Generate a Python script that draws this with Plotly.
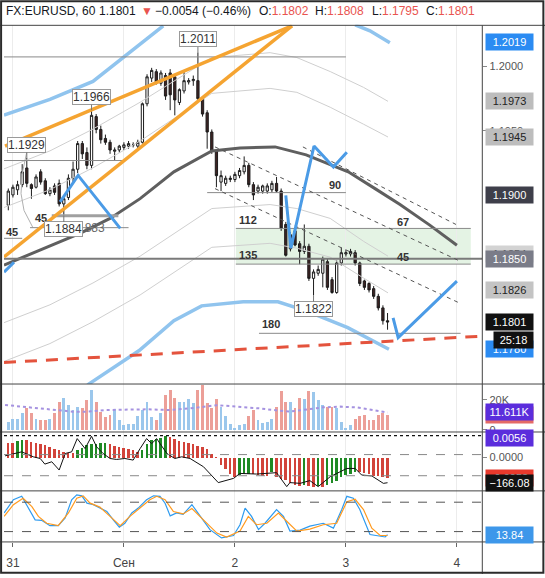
import plotly.graph_objects as go

W, H = 545, 578

# hourly EURUSD candles, bar 0 = 30 Aug 23:00 ... bar 82 = 3 Sep 09:00
opens = [1.1892, 1.1900, 1.1904, 1.1908, 1.1921, 1.1908, 1.1906, 1.1918, 1.1911, 1.1901,
         1.1907, 1.1909, 1.1893, 1.1898, 1.1913, 1.1920, 1.1940, 1.1933, 1.1923, 1.1961,
         1.1951, 1.1944, 1.1941, 1.1934, 1.1935, 1.1937, 1.1938, 1.1939, 1.1938, 1.1941,
         1.1971, 1.1991, 1.1996, 1.1987, 1.1993, 1.1995, 1.1992, 1.1972, 1.1981, 1.1988,
         1.1989, 1.1989, 1.1975, 1.1964, 1.1949, 1.1934, 1.1910, 1.1909, 1.1912, 1.1912,
         1.1915, 1.1918, 1.1923, 1.1908, 1.1903, 1.1903, 1.1903, 1.1904, 1.1909, 1.1903,
         1.1877, 1.1858, 1.1872, 1.1862, 1.1856, 1.1860, 1.1835, 1.1839, 1.1839, 1.1848,
         1.1834, 1.1824, 1.1847, 1.1854, 1.1854, 1.1855, 1.1847, 1.1833, 1.1831, 1.1827,
         1.1821, 1.1812, 1.1802]
highs = [1.1905, 1.1908, 1.1911, 1.1924, 1.1929, 1.1909, 1.1916, 1.1920, 1.1913, 1.1906,
         1.1909, 1.1912, 1.1899, 1.1916, 1.1926, 1.1942, 1.1942, 1.1937, 1.1966, 1.1963,
         1.1954, 1.1947, 1.1943, 1.1937, 1.1939, 1.1941, 1.1942, 1.1941, 1.1943, 1.1972,
         1.1994, 1.1999, 1.1998, 1.1997, 1.1995, 1.1998, 1.1994, 1.1983, 1.1996, 1.1991,
         1.1993, 1.2011, 1.1977, 1.1966, 1.1951, 1.1935, 1.1919, 1.1915, 1.1915, 1.1918,
         1.1921, 1.1930, 1.1925, 1.1910, 1.1908, 1.1908, 1.1909, 1.1911, 1.1914, 1.1905,
         1.1879, 1.1871, 1.1874, 1.1864, 1.1877, 1.1862, 1.1842, 1.1845, 1.1852, 1.1850,
         1.1836, 1.1849, 1.1859, 1.1857, 1.1858, 1.1857, 1.1848, 1.1834, 1.1832, 1.1829,
         1.1823, 1.1814, 1.1808]
lows = [1.1888, 1.1898, 1.1900, 1.1906, 1.1906, 1.1897, 1.1905, 1.1908, 1.1900, 1.1899,
        1.1900, 1.1891, 1.1884, 1.1896, 1.1910, 1.1917, 1.1928, 1.1920, 1.1920, 1.1948,
        1.1940, 1.1939, 1.1932, 1.1927, 1.1933, 1.1935, 1.1936, 1.1937, 1.1935, 1.1940,
        1.1969, 1.1988, 1.1986, 1.1985, 1.1974, 1.1966, 1.1962, 1.1970, 1.1979, 1.1986,
        1.1985, 1.1972, 1.1961, 1.1936, 1.1932, 1.1906, 1.1903, 1.1907, 1.1910, 1.1910,
        1.1913, 1.1916, 1.1906, 1.1896, 1.1901, 1.1901, 1.1901, 1.1902, 1.1902, 1.1872,
        1.1852, 1.1856, 1.1860, 1.1846, 1.1854, 1.1833, 1.1822, 1.1837, 1.1828, 1.1826,
        1.1823, 1.1823, 1.1845, 1.1852, 1.1852, 1.1845, 1.1829, 1.1826, 1.1824, 1.1819,
        1.1810, 1.1799, 1.1795]
closes = [1.1903, 1.1906, 1.1908, 1.1918, 1.1909, 1.1905, 1.1914, 1.1910, 1.1901, 1.1904,
          1.1902, 1.1893, 1.1897, 1.1913, 1.1920, 1.1940, 1.1932, 1.1923, 1.1962, 1.1951,
          1.1943, 1.1941, 1.1935, 1.1935, 1.1938, 1.1939, 1.1940, 1.1939, 1.1941, 1.1971,
          1.1992, 1.1997, 1.1988, 1.1995, 1.1977, 1.1978, 1.1974, 1.1982, 1.1989, 1.1989,
          1.1990, 1.1975, 1.1963, 1.1949, 1.1934, 1.1915, 1.1915, 1.1913, 1.1913, 1.1916,
          1.1919, 1.1923, 1.1908, 1.1900, 1.1906, 1.1907, 1.1907, 1.1909, 1.1903, 1.1874,
          1.1853, 1.1869, 1.1861, 1.1856, 1.1860, 1.1835, 1.1840, 1.1842, 1.1850, 1.1828,
          1.1824, 1.1847, 1.1855, 1.1855, 1.1856, 1.1847, 1.1831, 1.1828, 1.1826, 1.1821,
          1.1812, 1.1802, 1.1801]
bars = list(range(len(closes)))

# volume in thousands
volume_k = [5.2, 7.5, 7.5, 10.9, 14.3, 11.4, 7.5, 6.4, 6.4, 7.5, 10.9, 18.9, 21.2, 16.6,
            13.2, 15.5, 14.3, 20.0, 26.4, 18.9, 12.1, 8.6, 9.8, 13.7, 6.4, 3.0, 4.1, 4.1,
            9.1, 13.2, 18.9, 8.6, 6.4, 10.9, 23.4, 26.4, 21.2, 18.9, 18.9, 20.5, 17.7, 26.8,
            29.8, 18.2, 14.3, 20.5, 15.0, 9.1, 4.1, 1.4, 3.0, 4.1, 9.1, 13.2, 6.8, 4.6, 5.2,
            7.5, 15.5, 25.7, 18.9, 18.9, 14.3, 21.2, 20.5, 25.7, 25.0, 20.0, 16.6, 15.5, 15.0,
            14.3, 5.2, 1.4, 3.0, 7.5, 9.1, 9.8, 6.8, 6.8, 9.8, 10.9, 9.8]
vol_ma_x = [-0.7, 4.3, 9.0, 14, 17, 21, 26, 30, 35, 39.3, 45.1, 50.1, 54.4, 57.3, 60.9,
            68.1, 71.7, 75.3, 79.7, 82]
vol_ma_y = [16.6, 15.0, 13.2, 12.1, 12.1, 13.2, 13.5, 13.7, 13.2, 14.3, 16.5, 15.5, 14.3,
            13.2, 12.2, 15.0, 15.5, 15.0, 13.0, 11.611]

macd_hist = [0.0039, 0.0039, 0.0042, 0.0045, 0.0045, 0.0040, 0.0039, 0.0036, 0.0032, 0.0027,
             0.0023, 0.0019, 0.0015, 0.0012, 0.0011, 0.0019, 0.0025, 0.0032, 0.0034, 0.0036,
             0.0037, 0.0038, 0.0034, 0.0031, 0.0027, 0.0024, 0.0021, 0.0019, 0.0015, 0.0019,
             0.0036, 0.0045, 0.0049, 0.0052, 0.0055, 0.0053, 0.0049, 0.0043, 0.0040, 0.0037,
             0.0034, 0.0031, 0.0027, 0.0021, 0.0010, 0.0001, -0.0020, -0.0029, -0.0042, -0.0051,
             -0.0046, -0.0043, -0.0042, -0.0043, -0.0045, -0.0047, -0.0048, -0.0038, -0.0051,
             -0.0055, -0.0059, -0.0065, -0.0071, -0.0075, -0.0071, -0.0075, -0.0076, -0.0075,
             -0.0076, -0.0071, -0.0067, -0.0062, -0.0051, -0.0045, -0.0043, -0.0037, -0.0038,
             -0.0040, -0.0043, -0.0047, -0.0049, -0.0051, -0.0052]
cci_x = [-0.7, 2.9, 5.4, 6.9, 7.9, 9.4, 11.0, 12.3, 13.7, 14.9, 16.6, 18.0, 19.1, 20.5,
         22.0, 23.4, 25.2, 27.0, 28.5, 29.9, 31.0, 32.1, 32.8, 34.3, 36.0, 37.5, 39.3,
         42.2, 45.4, 48.7, 50.1, 53.7, 58.0, 60.2, 60.9, 63.1, 65.2, 67.0, 69.6, 73.2,
         75.0, 76.4, 78.6, 81.1, 82]
cci_y = [88, 126, 79, 63, 10, 32, -46, 110, 126, 251, 157, 273, 173, 110, 63, 54, 63, 48,
         157, 251, 204, 251, 204, 110, 63, 79, 63, -15, -165, -125, -78, -84, -71, -203,
         -165, -172, -146, -203, -109, -31, -31, -93, -102, -172, -166.08]

stoch_k_x = [-0.9, 1.1, 2.9, 4.3, 5.8, 7.2, 9.0, 10.8, 12.3, 13.7, 14.8, 15.9, 17.0, 18.4,
             19.8, 21.3, 22.7, 24.0, 25.2, 26.7, 28.1, 29.9, 31.4, 32.8, 33.9, 35.0, 36.4,
             37.8, 39.7, 41.5, 43.6, 46.1, 48.7, 50.1, 51.2, 52.6, 54.1, 55.5, 58.0, 59.5,
             60.9, 63.1, 65.2, 68.1, 70.3, 72.1, 73.2, 74.6, 76.0, 78.2, 80.4, 81.5, 82]
stoch_k_y = [58, 85, 92, 68, 44, 43, 32, 32, 48, 85, 95, 93, 78, 75, 68, 61, 44, 29, 37, 58,
             68, 85, 93, 92, 78, 52, 58, 55, 75, 51, 24, 7, 12, 34, 68, 51, 24, 37, 65, 51,
             21, 23, 31, 37, 27, 65, 92, 88, 65, 14, 11, 9, 13.84]
stoch_d_x = [-0.9, 1.1, 3.2, 5.1, 6.5, 8.3, 10.8, 13.0, 14.8, 16.2, 17.7, 19.8, 22.0, 24.2,
             26.3, 28.5, 30.6, 32.1, 33.9, 35.7, 37.8, 39.7, 42.2, 45.1, 47.2, 50.1, 51.9,
             53.7, 55.9, 58.4, 60.2, 62.4, 65.2, 68.1, 71.0, 73.2, 75.0, 76.8, 78.6, 80.4, 82]
stoch_d_y = [51, 75, 88, 71, 51, 37, 32, 58, 88, 93, 78, 70, 51, 32, 51, 68, 85, 92, 85, 61,
             56, 67, 44, 17, 9, 21, 51, 34, 37, 58, 41, 21, 25, 34, 37, 81, 86, 65, 27, 12, 12]

day_ticks = [1, 25, 49, 73, 97]
day_labels = ["31", "Сен", "2", "3", "4"]
price_ticks = [1.1950, 1.2000]

# channel / band curves (bar index, price)
mid_x = [-0.93, 6.85, 15.5, 22.0, 28.5, 35.8, 44.0, 50.1, 57.7, 64.4, 73.5, 79.3, 84.7, 91.2, 97.0]
mid_y = [1.18453, 1.18569, 1.18701, 1.18817, 1.18971, 1.19180, 1.19343, 1.19366, 1.19374,
         1.19312, 1.19180, 1.19049, 1.18925, 1.18763, 1.18608]
band_x = [-0.93, 9.0, 18.3, 28.5, 44.0, 56.6, 62.4, 69.6, 76.8, 82.1]
up_outer_y = [1.19203, 1.19343, 1.19513, 1.19722, 1.20070, 1.20108, 1.20070, 1.19961, 1.19838, 1.19729]
up_inner_y = [1.18902, 1.19041, 1.19211, 1.19420, 1.19791, 1.19830, 1.19799, 1.19683, 1.19551, 1.19451]
lo_inner_y = [1.18005, 1.18144, 1.18314, 1.18523, 1.18894, 1.18925, 1.18894, 1.18817, 1.18639, 1.18523]
lo_outer_y = [1.17703, 1.17842, 1.18012, 1.18221, 1.18592, 1.18623, 1.18585, 1.18515, 1.18353, 1.18237]
blue_up_x = [-0.93, 9.0, 18.3, 26.3, 33.5]
blue_up_y = [1.19621, 1.19745, 1.19884, 1.20108, 1.20317]
blue_up2_x = [75.0, 78.2, 82.5]
blue_up2_y = [1.20325, 1.20278, 1.20186]
blue_lo_x = [15.5, 17.4, 28.3, 35.8, 41.8, 50.8, 58.3, 64.4, 73.4, 82.3]
blue_lo_y = [1.17463, 1.17527, 1.17788, 1.18020, 1.18136, 1.18167, 1.18167, 1.18097, 1.17966, 1.17798]

# drawings
wedge_a_x, wedge_a_y = [-0.71, 61.34], [1.19381, 1.20317]
wedge_b_x, wedge_b_y = [-0.93, 61.34], [1.18517, 1.20317]
zig_left_x, zig_left_y = [11.2, 15.1, 24.2], [1.18946, 1.19152, 1.18739]
zig_stub_x, zig_stub_y = [-0.93, 1.23], [1.18399, 1.18476]
zig_right_x = [60.0, 61.1, 66.1, 70.3, 73.2]
zig_right_y = [1.18997, 1.18585, 1.19381, 1.19217, 1.19333]
zig_proj_x, zig_proj_y = [83.2, 84.3, 97.0], [1.18043, 1.17889, 1.18329]
trend_x, trend_y = [-0.93, 102.49], [1.17695, 1.17900]
chan_x = [[44.7, 97.2], [44.7, 97.5], [63.7, 96.8]]
chan_y = [[1.19374, 1.18492], [1.19049, 1.18159], [1.19374, 1.18770]]
arc_x = [4.0, 3.0, 2.75, 3.4, 5.3]
arc_y = [1.19335, 1.19165, 1.19010, 1.18879, 1.18747]
levels = [  # x0, x1, price
    (-0.93, 73.0, 1.20075), (-0.93, 25.2, 1.19268), (4.7, 26.0, 1.18745),
    (-0.93, 3.0, 1.18662), (43.0, 73.0, 1.19018), (49.2, 100.0, 1.18739),
    (49.2, 100.0, 1.18461), (54.2, 97.8, 1.17922)]
thick_level = (9.4, 23.8, 1.18838)
full_level = 1.18502
zone = (49.2, 100.0, 1.18461, 1.18739)
angle_labels = [(7.0, 1.18817, "45"), (0.75, 1.18708, "45"), (70.7, 1.19080, "90"),
                (51.9, 1.18804, "112"), (85.3, 1.18791, "67"), (51.9, 1.18533, "135"),
                (85.3, 1.18520, "45"), (56.8, 1.17991, "180")]
hi_marks = [4, 18, 41]
lo_marks = [12, 66]

X0, X1 = 4 / W, 482.3 / W


def py(px):
    return 1 - px / H


fig = go.Figure()


def line(xs, ys, color, width, dash=None, xa="x", ya="y"):
    fig.add_trace(go.Scatter(x=xs, y=ys, mode="lines", xaxis=xa, yaxis=ya,
                             line=dict(color=color, width=width, dash=dash),
                             hoverinfo="skip", showlegend=False))


# bands under the candles
for yy in (up_outer_y, up_inner_y, lo_inner_y, lo_outer_y):
    line(band_x, yy, "#cfcfcf", 1)
line(mid_x, mid_y, "#5f5f5f", 3)
line(blue_up_x, blue_up_y, "#90c4ee", 3.5)
line(blue_up2_x, blue_up2_y, "#90c4ee", 3.5)
line(blue_lo_x, blue_lo_y, "#90c4ee", 3.5)
line(arc_x, arc_y, "#b0b0b0", 1)
for x0, x1, p in levels:
    line([x0, x1], [p, p], "#8a8a8a", 1)
line([thick_level[0], thick_level[1]], [thick_level[2]] * 2, "#a0a0a0", 3)
line([-0.93, 102.49], [full_level, full_level], "#7a7a7a", 2)

fig.add_trace(go.Candlestick(
    x=bars, open=opens, high=highs, low=lows, close=closes,
    increasing=dict(line=dict(color="#1c1c1c", width=1), fillcolor="#ffffff"),
    decreasing=dict(line=dict(color="#1c1c1c", width=1), fillcolor="#3e2323"),
    whiskerwidth=0, hoverinfo="skip", showlegend=False))

# drawings on top
line(wedge_a_x, wedge_a_y, "#f5a431", 3.5)
line(wedge_b_x, wedge_b_y, "#f5a431", 3.5)
for cx, cy in zip(chan_x, chan_y):
    line(cx, cy, "#555555", 1, "4px,4px")
line(zig_left_x, zig_left_y, "#4b9be6", 3)
line(zig_stub_x, zig_stub_y, "#4b9be6", 3)
line(zig_right_x, zig_right_y, "#4b9be6", 3)
line(zig_proj_x, zig_proj_y, "#4b9be6", 3)
line(trend_x, trend_y, "#e4533d", 3, "12px,9px")

# volume pane
vol_colors = ["#91c1ea" if c >= o else "#eb958d" for o, c in zip(opens, closes)]
line(vol_ma_x, vol_ma_y, "#a592e0", 2, "dot", "x2", "y2")
fig.add_trace(go.Bar(x=bars, y=volume_k, marker=dict(color=vol_colors, line=dict(width=0)),
                     width=0.62, opacity=0.9, xaxis="x2", yaxis="y2",
                     hoverinfo="skip", showlegend=False))

# oscillator pane (histogram + black line)
hist_colors = ["#d2433a"] + ["#1f8a24" if b > a else "#d2433a"
                             for a, b in zip(macd_hist[:-1], macd_hist[1:])]
fig.add_trace(go.Bar(x=bars, y=macd_hist, marker=dict(color=hist_colors, line=dict(width=0)),
                     width=0.42, xaxis="x3", yaxis="y3", hoverinfo="skip", showlegend=False))
line(cci_x, cci_y, "#111111", 1, None, "x3", "y4")

# stochastic pane
line(stoch_k_x, stoch_k_y, "#2f9bef", 1.2, None, "x4", "y5")
line(stoch_d_x, stoch_d_y, "#ff9a1f", 1.2, None, "x4", "y5")

xbase = dict(range=[-0.93, 102.49], domain=[X0, X1], tickvals=day_ticks, ticktext=day_labels,
             showgrid=True, gridcolor="#ececec", zeroline=False, showline=False,
             fixedrange=True)
tickfont = dict(family="Liberation Sans, Arial", size=11, color="#555")
fig.update_layout(
    width=W, height=H, margin=dict(l=0, r=0, t=0, b=0),
    paper_bgcolor="white", plot_bgcolor="white", bargap=0,
    xaxis=dict(xbase, anchor="y", showticklabels=False, rangeslider=dict(visible=False)),
    xaxis2=dict(xbase, anchor="y2", showticklabels=False),
    xaxis3=dict(xbase, anchor="y3", showticklabels=False),
    xaxis4=dict(xbase, anchor="y5", showticklabels=True, ticks="outside", ticklen=4,
                ticklabelstandoff=6, tickcolor="#666",
                tickfont=dict(family="Liberation Sans, Arial", size=12, color="#444")),
    yaxis=dict(domain=[py(386.7), py(25)], range=[1.17527, 1.20325], anchor="x", side="right",
               tickvals=price_ticks, tickformat=".4f", ticks="outside", ticklen=4,
               tickcolor="#888", tickfont=tickfont, showgrid=False, zeroline=False),
    yaxis2=dict(domain=[py(435), py(386.7)], range=[-1.53, 30.67], anchor="x2", side="right",
                tickvals=[0, 20], ticktext=["0", "20K"], ticks="outside", ticklen=4,
                tickcolor="#888", tickfont=tickfont, showgrid=False, zeroline=False),
    yaxis3=dict(domain=[py(494.3), py(435)], range=[-0.008671, 0.006632], anchor="x3",
                side="right", tickvals=[0], ticktext=["0.0000"], ticks="outside", ticklen=4,
                tickcolor="#888", tickfont=tickfont, showgrid=False, zeroline=False),
    yaxis4=dict(range=[-243.2, 313.6], overlaying="y3", anchor="x3", visible=False),
    yaxis5=dict(domain=[py(545.7), py(494.3)], range=[-1.1, 103.1], anchor="x4", side="right",
                showticklabels=False, showgrid=False, zeroline=False),
)

shapes = [
    dict(type="rect", xref="x", yref="y", x0=zone[0], x1=zone[1], y0=zone[2], y1=zone[3],
         fillcolor="rgba(196,228,196,0.45)", line=dict(width=0), layer="below"),
    dict(type="line", xref="paper", yref="y4", x0=X0, x1=X1, y0=100, y1=100,
         line=dict(color="#888", width=1, dash="dash")),
    dict(type="line", xref="paper", yref="y4", x0=X0, x1=X1, y0=-100, y1=-100,
         line=dict(color="#888", width=1, dash="dash")),
    dict(type="line", xref="paper", yref="y3", x0=X0, x1=X1, y0=0.0057, y1=0.0057,
         line=dict(color="#111", width=1.2, dash="dot")),
    dict(type="line", xref="paper", yref="y5", x0=X0, x1=X1, y0=80, y1=80,
         line=dict(color="#555", width=1, dash="dash")),
    dict(type="line", xref="paper", yref="y5", x0=X0, x1=X1, y0=20, y1=20,
         line=dict(color="#555", width=1, dash="dash")),
]
for px in (25.5, 386.7, 435, 494.3, 545.7):
    shapes.append(dict(type="line", xref="paper", yref="paper", x0=0, x1=1, y0=py(px), y1=py(px),
                       line=dict(color="#444", width=1)))
shapes.append(dict(type="line", xref="paper", yref="paper", x0=X1, x1=X1, y0=0, y1=py(25.5),
                   line=dict(color="#444", width=1)))
shapes.append(dict(type="rect", xref="paper", yref="paper", x0=0.002, x1=0.997, y0=0.002, y1=0.998,
                   line=dict(color="#2b2b2b", width=2)))
fig.update_layout(shapes=shapes)

FONT = "Liberation Sans, Arial"
ann = []
# header
red = "#e9544f"
header = [(3.5, "FX:EURUSD, 60"), (97, "1.1801"), (139, f"<span style='color:{red}'>▼</span>"),
          (153, "−0.0054 (−0.46%)"),
          (256.5, f"O:<span style='color:{red}'>1.1802</span>"),
          (313, f"H:<span style='color:{red}'>1.1808</span>"),
          (369.5, f"L:<span style='color:{red}'>1.1795</span>"),
          (424, f"C:<span style='color:{red}'>1.1801</span>")]
for hx, txt in header:
    ann.append(dict(xref="paper", yref="paper", x=hx / W, y=py(11), text=txt, showarrow=False,
                    xanchor="left", yanchor="middle", font=dict(family=FONT, size=12, color="#131722")))

# angle labels of the fan
for ax_, ay_, txt in angle_labels:
    ann.append(dict(xref="x", yref="y", x=ax_, y=ay_, text=f"<b>{txt}</b>", showarrow=False,
                    font=dict(family=FONT, size=11, color="#333")))
# second mark, mostly hidden under the 1.1884 box
ann.append(dict(xref="x", yref="y", x=16.8, y=1.18745, text="1.1883", showarrow=False,
                font=dict(family=FONT, size=12, color="#666")))

# high / low price marks
for i in hi_marks:
    ann.append(dict(xref="x", yref="y", x=bars[i], y=highs[i], text=f"{highs[i]:.4f}",
                    showarrow=True, ax=0, ay=-13, arrowhead=0, arrowwidth=1, arrowcolor="#777",
                    bgcolor="white", bordercolor="#9a9a9a", borderwidth=1, borderpad=0,
                    font=dict(family=FONT, size=12, color="#333")))
for i in lo_marks:
    ann.append(dict(xref="x", yref="y", x=bars[i], y=lows[i], text=f"{lows[i]:.4f}",
                    showarrow=True, ax=0, ay=14, arrowhead=0, arrowwidth=1, arrowcolor="#777",
                    bgcolor="white", bordercolor="#9a9a9a", borderwidth=1, borderpad=0,
                    font=dict(family=FONT, size=12, color="#333")))


def box(yref, yval, text, bg, fg, x=485, width=43, yshift=0):
    ann.append(dict(xref="paper", yref=yref, x=x / W, y=yval, text=text, showarrow=False,
                    xanchor="left", yanchor="middle", width=width, align="center",
                    bgcolor=bg, borderpad=2, yshift=yshift,
                    font=dict(family=FONT, size=11, color=fg)))


box("y", 1.2019, "1.2019", "#2b8bf2", "white")
box("y", 1.1973, "1.1973", "#bdbdbd", "#222")
box("y", 1.1945, "1.1945", "#bdbdbd", "#222")
box("y", 1.1900, "1.1900", "#3e3f4a", "white")
box("y", 1.1854, "1.1854", "#d3d3d3", "#444")
box("y", 1.1850, "1.1850", "#7a7c88", "white")
box("y", 1.1826, "1.1826", "#c4c4c4", "#222")
box("y", 1.1780, "1.1780", "#2b8bf2", "white")
box("y", closes[-1], f"{closes[-1]:.4f}", "#111", "white")
box("y", closes[-1], "25:18", "#111", "white", x=493, width=35, yshift=-18)
box("y2", volume_k[-1], f"{volume_k[-1]}K", "#e46a67", "white")
box("y2", vol_ma_y[-1], f"{vol_ma_y[-1]:.3f}K", "#5b2ddc", "white")
box("y3", 0.0056, "0.0056", "#5b2ddc", "white", yshift=-2)
box("y3", macd_hist[-1], f"{macd_hist[-1]:.4f}", "#e8392c", "white")
box("y4", cci_y[-1], "−166.08", "#111", "white")
box("y5", stoch_k_y[-1], f"{stoch_k_y[-1]:.2f}", "#3d97ea", "white")

fig.update_layout(annotations=ann)

fig.write_html("out.html", config={"displayModeBar": False},
               post_script="document.body.style.margin='0';")
